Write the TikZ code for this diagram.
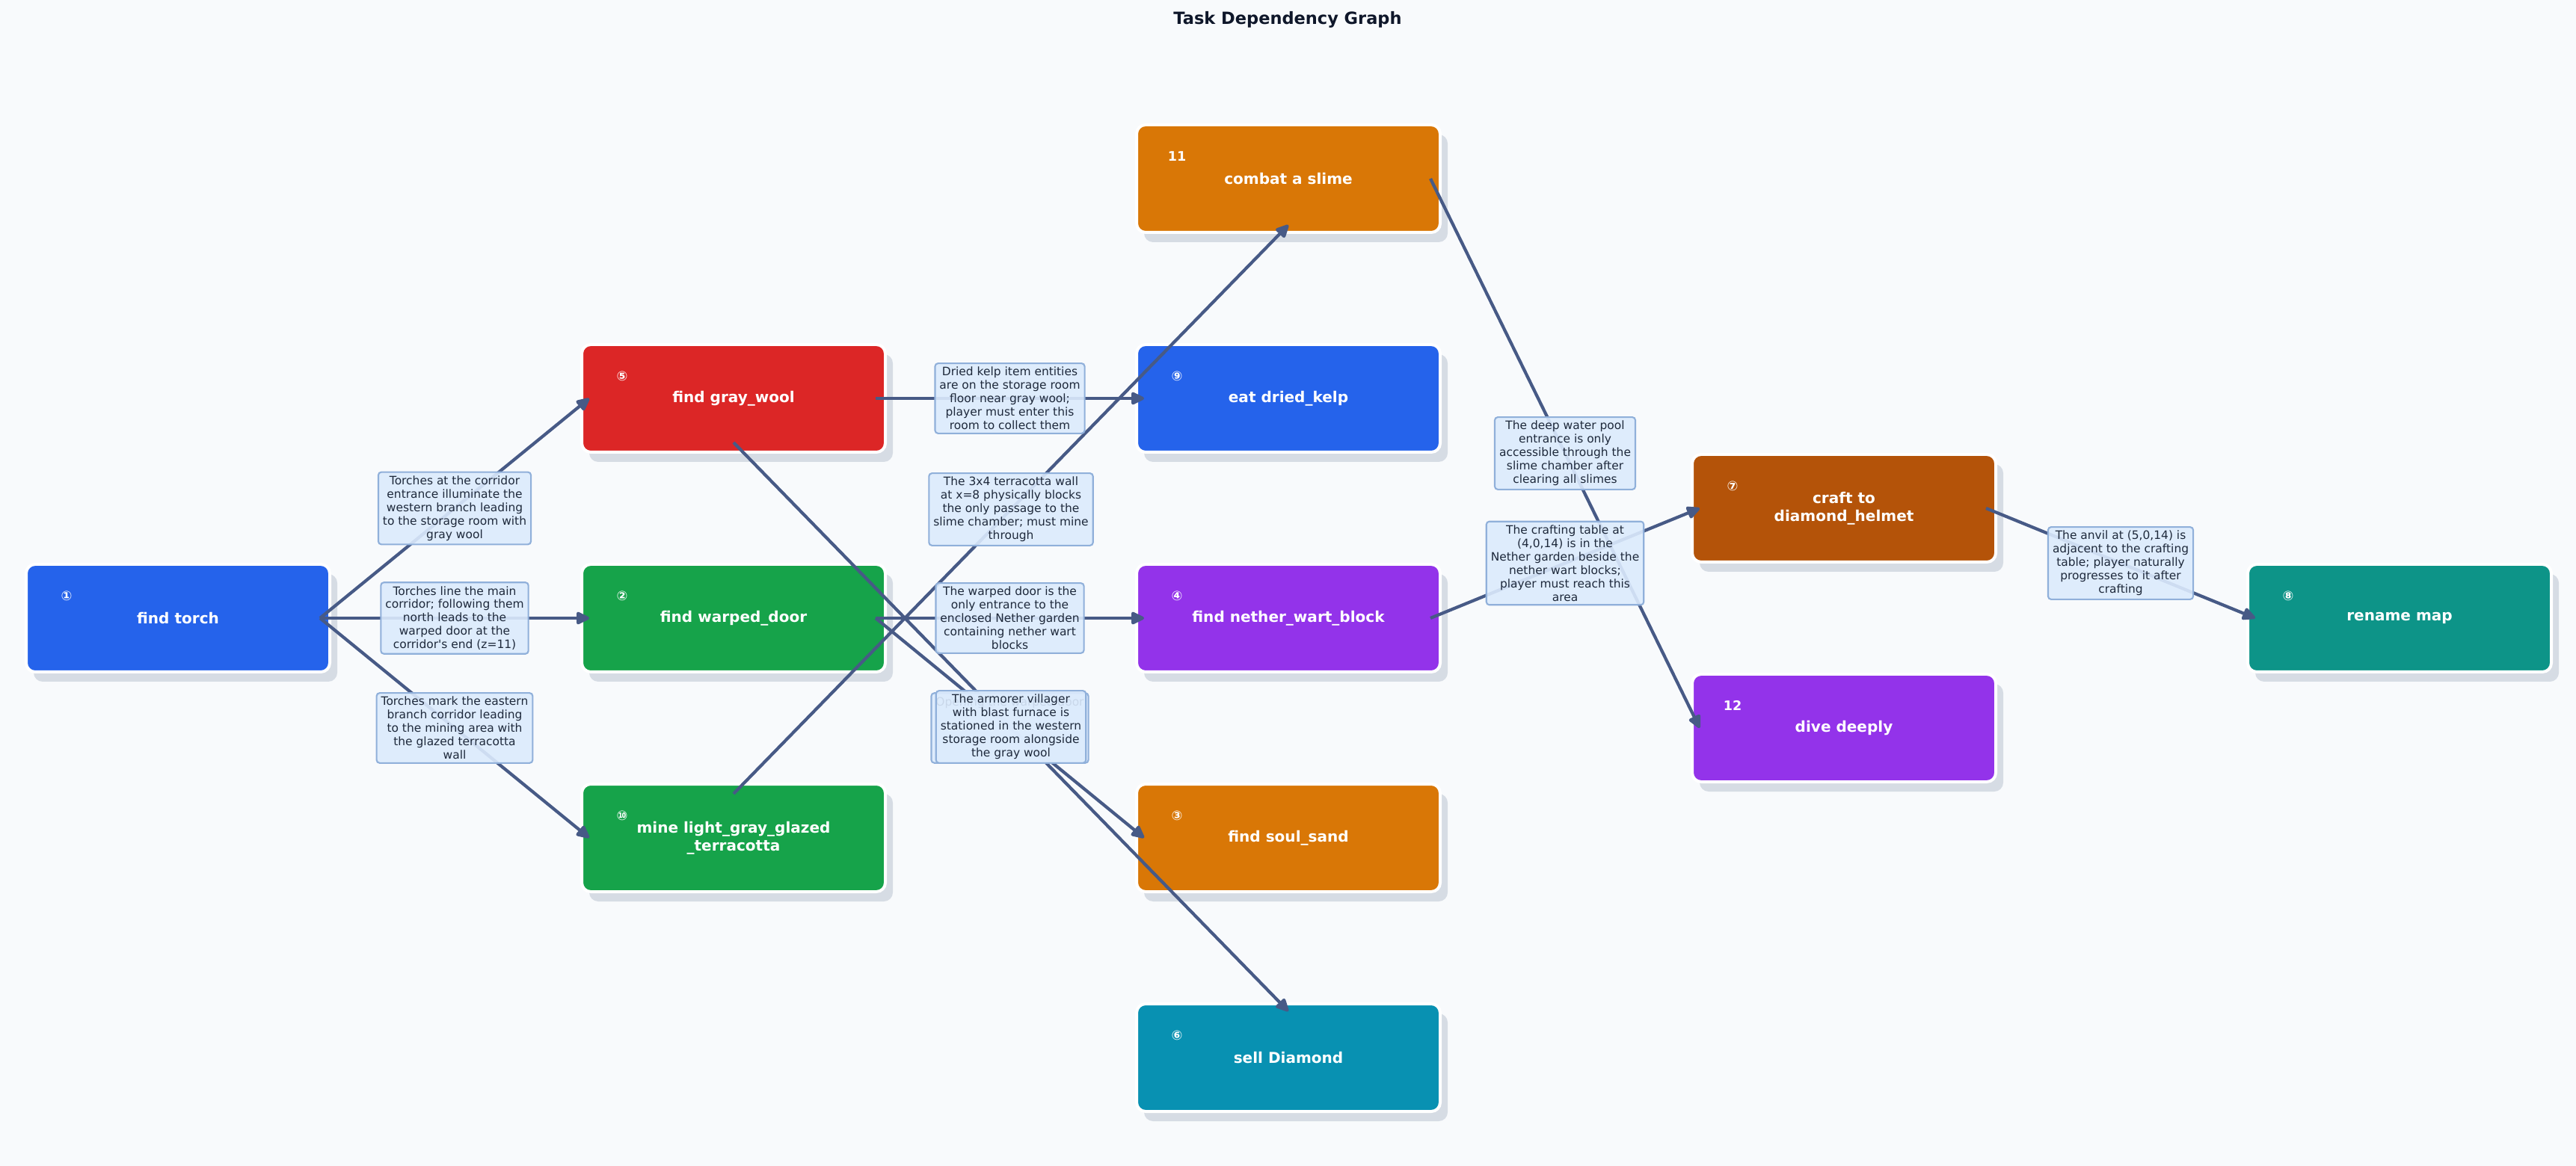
\documentclass[tikz,border=0pt]{standalone}
\usepackage{fontspec}
\setmainfont{DejaVu Sans}
\usetikzlibrary{arrows.meta,shadows}

\definecolor{bg}{HTML}{F8FAFC}
\definecolor{cblue}{HTML}{2563EB}
\definecolor{cred}{HTML}{DC2626}
\definecolor{cgreen}{HTML}{16A34A}
\definecolor{corange}{HTML}{D97706}
\definecolor{cpurple}{HTML}{9333EA}
\definecolor{ccyan}{HTML}{0891B2}
\definecolor{cbrown}{HTML}{B45309}
\definecolor{cteal}{HTML}{0D9488}
\definecolor{shadowc}{HTML}{D6DCE4}
\definecolor{edgec}{HTML}{475A86}
\definecolor{notefill}{HTML}{DCEBFD}
\definecolor{notebd}{HTML}{90B0DA}
\definecolor{notetext}{HTML}{1E293B}
\definecolor{titlec}{HTML}{0F172A}

\tikzset{
  task/.style={rectangle, rounded corners=0.12cm, minimum width=4.06cm,
    minimum height=1.44cm, draw=white, line width=0.04cm, outer sep=0pt,
    text=white, align=center, font=\bfseries\fontsize{5.7}{6.7}\selectfont,
    drop shadow={shadow xshift=0.10cm, shadow yshift=-0.13cm, fill=shadowc, opacity=1}},
  badge/.style={text=white, inner sep=0pt, font=\bfseries\fontsize{5}{6}\selectfont},
  edge/.style={draw=edgec, line width=1.2pt,
    -{Triangle[length=0.2cm, width=0.18cm, round]}},
  note/.style={rectangle, rounded corners=0.04cm, draw=notebd, line width=0.6pt,
    fill=notefill, fill opacity=0.9, text opacity=1, text=notetext,
    align=center, inner xsep=0.06cm, inner ysep=0.05cm,
    font=\fontsize{4.4}{5.1}\selectfont},
  title/.style={text=titlec, font=\bfseries\fontsize{6.4}{7.6}\selectfont}
}

\begin{document}
\begin{tikzpicture}[node distance=2.94cm]
\useasboundingbox[fill=bg] (0,0) rectangle (34.45,-15.6);
\node[title] (title) at (17.22,-0.26) {Task Dependency Graph};

% tasks
\node[task, fill=cblue] (torch) at (2.38,-8.27) {find torch};
\node[task, fill=cgreen, node distance=7.43cm, right of=torch] (wdoor) {find warped\_door};
\node[task, fill=cred, above of=wdoor] (gwool) {find gray\_wool};
\node[task, fill=cgreen, below of=wdoor] (mine) {mine light\_gray\_glazed\\\_terracotta};
\node[task, fill=cpurple, node distance=7.42cm, right of=wdoor] (nwart) {find nether\_wart\_block};
\node[task, fill=cblue, above of=nwart] (kelp) {eat dried\_kelp};
\node[task, fill=corange, above of=kelp] (combat) {combat a slime};
\node[task, fill=corange, below of=nwart] (soul) {find soul\_sand};
\node[task, fill=ccyan, below of=soul] (sell) {sell Diamond};
\node[task, fill=cbrown, node distance=7.43cm, right of=nwart, yshift=1.47cm] (craft) {craft to\\diamond\_helmet};
\node[task, fill=cpurple, below of=craft] (dive) {dive deeply};
\node[task, fill=cteal, node distance=7.43cm, right of=craft, yshift=-1.47cm] (rename) {rename map};

\foreach \n/\b in {torch/①, gwool/⑤, wdoor/②, mine/⑩, combat/11, kelp/⑨,
                   nwart/④, soul/③, sell/⑥, craft/⑦, dive/12, rename/⑧}
  \node[badge] at ([xshift=0.54cm, yshift=0.30cm]\n.west) {\b};

% dependencies
\draw[edge] ([xshift=-0.13cm]torch.east) -- coordinate[midway] (m1) ([xshift=0.10cm]gwool.west);
\draw[edge] ([xshift=-0.13cm]torch.east) -- coordinate[midway] (m2) ([xshift=0.10cm]wdoor.west);
\draw[edge] ([xshift=-0.13cm]torch.east) -- coordinate[midway] (m3) ([xshift=0.10cm]mine.west);
\draw[edge] ([xshift=-0.13cm]gwool.east) -- coordinate[midway] (m4) ([xshift=0.10cm]kelp.west);
\draw[edge] ([xshift=-0.13cm]wdoor.east) -- coordinate[midway] (m6) ([xshift=0.10cm]nwart.west);
\draw[edge] ([xshift=-0.13cm]wdoor.east) -- coordinate[midway] (m7) ([xshift=0.10cm]soul.west);
\draw[edge] ([yshift=0.13cm]gwool.south) -- coordinate[midway] (m5) ([yshift=-0.10cm]sell.north);
\draw[edge] ([yshift=-0.13cm]mine.north) -- coordinate[midway] (m8) ([yshift=0.10cm]combat.south);
\draw[edge] ([xshift=-0.13cm]combat.east) -- coordinate[midway] (m9) ([xshift=0.10cm]dive.west);
\draw[edge] ([xshift=-0.13cm]nwart.east) -- coordinate[midway] (m10) ([xshift=0.10cm]craft.west);
\draw[edge] ([xshift=-0.13cm]craft.east) -- coordinate[midway] (m11) ([xshift=0.10cm]rename.west);

% edge notes
\node[note] (n1) at (m1) {Torches at the corridor\\entrance illuminate the\\western branch leading\\to the storage room with\\gray wool};
\node[note] (n2) at (m2) {Torches line the main\\corridor; following them\\north leads to the\\warped door at the\\corridor\textquotesingle s end (z=11)};
\node[note] (n3) at (m3) {Torches mark the eastern\\branch corridor leading\\to the mining area with\\the glazed terracotta\\wall};
\node[note] (n4) at (m4) {Dried kelp item entities\\are on the storage room\\floor near gray wool;\\player must enter this\\room to collect them};
\node[note] (n6) at (m6) {The warped door is the\\only entrance to the\\enclosed Nether garden\\containing nether wart\\blocks};
\node[note] (n7) at (m7) {Opening the warped door\\\mbox{}\\\mbox{}\\\mbox{}\\\mbox{}};
\node[note] (n5) at (m5) {The armorer villager\\with blast furnace is\\stationed in the western\\storage room alongside\\the gray wool};
\node[note] (n8) at (m8) {The 3x4 terracotta wall\\at x=8 physically blocks\\the only passage to the\\slime chamber; must mine\\through};
\node[note] (n9) at (m9) {The deep water pool\\entrance is only\\accessible through the\\slime chamber after\\clearing all slimes};
\node[note] (n10) at (m10) {The crafting table at\\(4,0,14) is in the\\Nether garden beside the\\nether wart blocks;\\player must reach this\\area};
\node[note] (n11) at (m11) {The anvil at (5,0,14) is\\adjacent to the crafting\\table; player naturally\\progresses to it after\\crafting};
\end{tikzpicture}
\end{document}
